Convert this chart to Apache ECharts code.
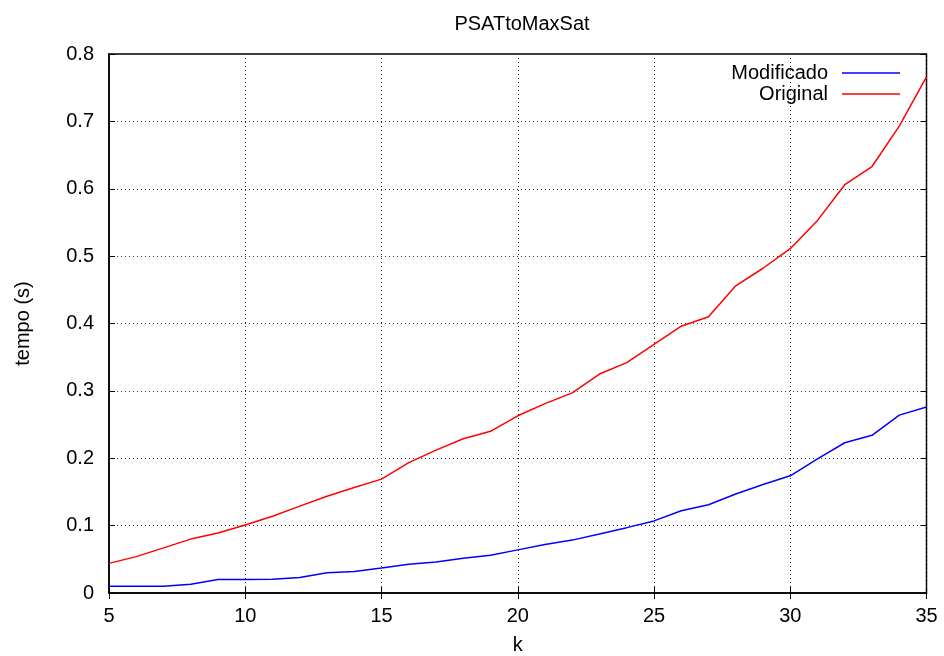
<!DOCTYPE html>
<html>
<head>
<meta charset="utf-8">
<script src="https://cdn.jsdelivr.net/npm/echarts@6/dist/echarts.min.js"></script>
<style>html,body{margin:0;padding:0;background:#fff}#c{width:944px;height:656px}</style>
</head>
<body>
<div id="c"></div>
<script>
const kValues = [5,6,7,8,9,10,11,12,13,14,15,16,17,18,19,20,21,22,23,24,25,26,27,28,29,30,31,32,33,34,35];
const modificado = [0.01,0.01,0.01,0.013,0.02,0.02,0.0205,0.023,0.03,0.032,0.037,0.0425,0.046,0.0515,0.056,0.064,0.072,0.0785,0.0875,0.097,0.107,0.122,0.131,0.147,0.161,0.174,0.199,0.223,0.234,0.264,0.276];
const original = [0.044,0.054,0.067,0.08,0.089,0.101,0.114,0.129,0.1435,0.1565,0.169,0.1935,0.212,0.229,0.24,0.263,0.281,0.297,0.325,0.342,0.369,0.396,0.41,0.456,0.482,0.511,0.553,0.606,0.633,0.693,0.766];
const seriesNames = ['Modificado','Original'];
const titleText = 'PSATtoMaxSat';
const xName = 'k';
const yName = 'tempo (s)';

const FONT = 'Liberation Sans';
const FS = 20;
const chart = echarts.init(document.getElementById('c'), null, {renderer:'canvas'});
const pairs = (ys) => kValues.map((k,i)=>[k, ys[i]]);
const tickStyle = {show:true, inside:true, length:6, lineStyle:{color:'#000', width:1}};
const legendCommon = {
  orient:'vertical', right:39, align:'right', icon:'rect', itemWidth:58, itemHeight:1.5,
  textStyle:{fontFamily:FONT, fontSize:FS, color:'#000', padding:[0,9,0,0]},
  selectedMode:false
};
chart.setOption({
  animation:false,
  backgroundColor:'#fff',
  title:{text:titleText, left:517, top:9, textAlign:'center',
    textStyle:{fontFamily:FONT, fontSize:FS, fontWeight:'normal', color:'#000'}},
  legend:[
    Object.assign({data:[seriesNames[0]], top:58}, legendCommon),
    Object.assign({data:[seriesNames[1]], top:79}, legendCommon)
  ],
  grid:{left:109, right:17.5, top:54, bottom:63, show:true, borderColor:'#000', borderWidth:1.5,
    backgroundColor:'transparent', containLabel:false, outerBoundsMode:'none'},
  xAxis:[{
    type:'value', min:5, max:35, interval:5, position:'bottom',
    name:xName, nameLocation:'middle', nameGap:42, nameMoveOverlap:false,
    nameTextStyle:{fontFamily:FONT, fontSize:FS, color:'#000'},
    axisLine:{show:true, lineStyle:{color:'#000', width:1.5}},
    axisTick:tickStyle,
    axisLabel:{fontFamily:FONT, fontSize:FS, color:'#000', margin:13},
    splitLine:{show:true, lineStyle:{color:'#333', type:[1,3], width:1}}
  },{
    type:'value', min:5, max:35, interval:5, position:'top',
    axisLine:{show:false}, axisTick:tickStyle, axisLabel:{show:false}, splitLine:{show:false}
  }],
  yAxis:[{
    type:'value', min:0, max:0.8, interval:0.1, position:'left',
    name:yName, nameLocation:'middle', nameGap:76, nameRotate:90, nameMoveOverlap:false,
    nameTextStyle:{fontFamily:FONT, fontSize:FS, color:'#000'},
    axisLine:{show:true, lineStyle:{color:'#000', width:1.5}},
    axisTick:tickStyle,
    axisLabel:{fontFamily:FONT, fontSize:FS, color:'#000', margin:15,
      formatter:(v)=> String(+v.toFixed(1))},
    splitLine:{show:true, lineStyle:{color:'#333', type:[1,3], width:1}}
  },{
    type:'value', min:0, max:0.8, interval:0.1, position:'right',
    axisLine:{show:false}, axisTick:tickStyle, axisLabel:{show:false}, splitLine:{show:false}
  }],
  series:[
    {name:seriesNames[0], type:'line', data:pairs(modificado), symbol:'none',
      lineStyle:{color:'#0000ff', width:1.5}, itemStyle:{color:'#0000ff'}, z:3},
    {name:seriesNames[1], type:'line', data:pairs(original), symbol:'none',
      lineStyle:{color:'#ff0000', width:1.5}, itemStyle:{color:'#ff0000'}, z:3}
  ]
});
</script>
</body>
</html>
